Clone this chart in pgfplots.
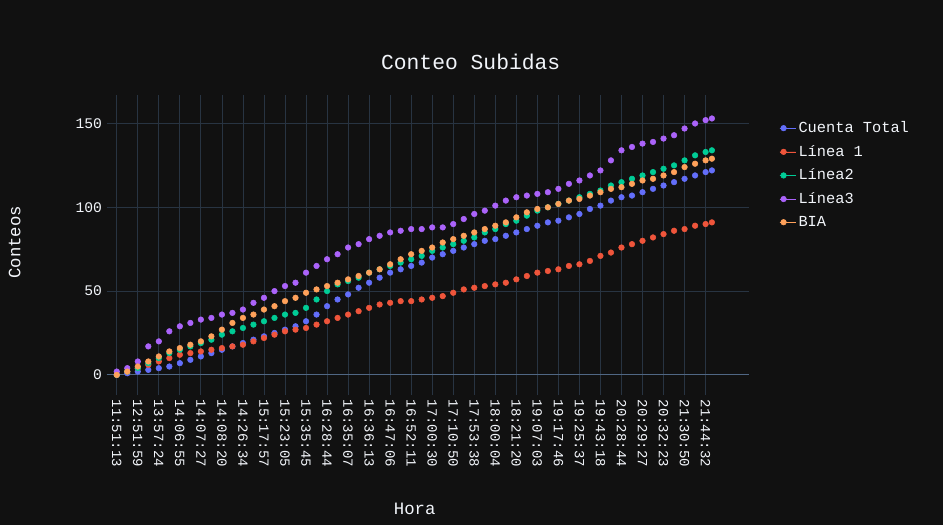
\documentclass[border=0pt]{standalone}
\usepackage{pgfplots}
\pgfplotsset{compat=1.18}
\usepackage{fontspec}
\setmainfont{Liberation Mono}
\definecolor{bg}{HTML}{111111}
\definecolor{fg}{HTML}{F2F5FA}
\definecolor{gridc}{HTML}{283442}
\definecolor{zl}{HTML}{506784}
\definecolor{c1}{HTML}{636EFA}
\definecolor{c2}{HTML}{EF553B}
\definecolor{c3}{HTML}{00CC96}
\definecolor{c4}{HTML}{AB63FA}
\definecolor{c5}{HTML}{FFA15A}
\begin{document}
\begin{tikzpicture}
\fill[bg] (0,0) rectangle (707.25pt,393.75pt);
\node[text=fg,font=\fontsize{16}{19}\selectfont] at (353pt,347pt) {Conteo Subidas};
\node[text=fg,font=\fontsize{13}{15}\selectfont,rotate=90] at (11pt,212pt) {Conteos};
\node[text=fg,font=\fontsize{13}{15}\selectfont] at (311pt,12pt) {Hora};
\begin{axis}[at={(80pt,97.5pt)},anchor=south west,scale only axis,
 width=482pt,height=225pt,
 xmin=-4.8,xmax=300.8,ymin=-12,ymax=167,
 axis line style={draw=none},tick style={draw=none},
 grid=major,grid style={gridc,line width=0.6pt},
 ytick={0,50,100,150},
 xtick={0,10,...,280},
 xticklabels={11:51:13,12:51:59,13:57:24,14:06:55,14:07:27,14:08:20,14:26:34,15:17:57,15:23:05,15:35:45,16:28:44,16:35:07,16:36:13,16:47:06,16:52:11,17:00:30,17:10:50,17:53:38,18:00:04,18:21:20,19:07:03,19:17:46,19:25:37,19:43:18,20:28:44,20:29:27,20:32:23,21:30:50,21:44:32},
 x tick label style={rotate=-90,anchor=west,font=\fontsize{10.5}{12}\selectfont},
 y tick label style={font=\fontsize{11}{12}\selectfont},
 /pgf/number format/assume math mode=true,
 ticklabel style={text=fg},
 legend style={at={(1.04,0.93)},anchor=north west,fill=none,draw=none,text=fg,font=\fontsize{11.5}{13}\selectfont,row sep=4pt},
 legend cell align=left,
 legend image code/.code={\draw[#1] (0.3em,0) circle (2.1pt); \path (0,0) -- (1.2em,0);},
 every axis plot/.append style={only marks,mark=*,mark size=2.1pt},
]
\draw[zl,line width=0.8pt] (axis cs:-4.8,0) -- (axis cs:300.8,0);
\addplot[c1,fill=c1,mark options={fill=c1,draw=none}] coordinates {(0,0)(5,1)(10,2)(15,3)(20,4)(25,5)(30,7)(35,9)(40,11)(45,13)(50,15)(55,17)(60,19)(65,21)(70,23)(75,25)(80,27)(85,29)(90,32)(95,36)(100,41)(105,45)(110,48)(115,52)(120,55)(125,58)(130,61)(135,63)(140,65)(145,67)(150,70)(155,72)(160,74)(165,76)(170,78)(175,80)(180,81)(185,83)(190,85)(195,87)(200,89)(205,91)(210,92)(215,94)(220,96)(225,99)(230,101)(235,104)(240,106)(245,107)(250,109)(255,111)(260,113)(265,115)(270,117)(275,119)(280,121)(283,122)};
\addlegendentry{Cuenta Total}
\addplot[c2,fill=c2,mark options={fill=c2,draw=none}] coordinates {(0,0)(5,2)(10,4)(15,6)(20,8)(25,10)(30,12)(35,13)(40,14)(45,15)(50,16)(55,17)(60,18)(65,20)(70,22)(75,24)(80,26)(85,27)(90,28)(95,30)(100,32)(105,34)(110,36)(115,38)(120,40)(125,42)(130,43)(135,44)(140,44)(145,45)(150,46)(155,47)(160,49)(165,51)(170,52)(175,53)(180,54)(185,55)(190,57)(195,59)(200,61)(205,62)(210,63)(215,65)(220,66)(225,68)(230,71)(235,73)(240,76)(245,78)(250,80)(255,82)(260,84)(265,86)(270,87)(275,89)(280,90)(283,91)};
\addlegendentry{Línea 1}
\addplot[c3,fill=c3,mark options={fill=c3,draw=none}] coordinates {(0,0)(5,2)(10,4)(15,7)(20,10)(25,13)(30,15)(35,17)(40,19)(45,21)(50,24)(55,26)(60,28)(65,30)(70,32)(75,34)(80,36)(85,37)(90,40)(95,45)(100,50)(105,54)(110,56)(115,58)(120,61)(125,63)(130,65)(135,67)(140,69)(145,71)(150,74)(155,76)(160,78)(165,80)(170,82)(175,85)(180,87)(185,90)(190,92)(195,95)(200,98)(205,100)(210,102)(215,104)(220,106)(225,108)(230,110)(235,113)(240,115)(245,117)(250,119)(255,121)(260,123)(265,125)(270,128)(275,131)(280,133)(283,134)};
\addlegendentry{Línea2}
\addplot[c4,fill=c4,mark options={fill=c4,draw=none}] coordinates {(0,2)(5,4)(10,8)(15,17)(20,20)(25,26)(30,29)(35,31)(40,33)(45,34)(50,36)(55,37)(60,39)(65,43)(70,46)(75,50)(80,53)(85,55)(90,61)(95,65)(100,69)(105,72)(110,76)(115,78)(120,81)(125,83)(130,85)(135,86)(140,87)(145,87)(150,88)(155,88)(160,90)(165,93)(170,96)(175,98)(180,101)(185,104)(190,106)(195,107)(200,108)(205,109)(210,111)(215,114)(220,116)(225,119)(230,122)(235,128)(240,134)(245,136)(250,138)(255,139)(260,141)(265,143)(270,147)(275,150)(280,152)(283,153)};
\addlegendentry{Línea3}
\addplot[c5,fill=c5,mark options={fill=c5,draw=none}] coordinates {(0,0)(5,2)(10,5)(15,8)(20,11)(25,14)(30,16)(35,18)(40,20)(45,23)(50,27)(55,31)(60,34)(65,36)(70,39)(75,41)(80,44)(85,46)(90,49)(95,51)(100,53)(105,55)(110,57)(115,59)(120,61)(125,63)(130,66)(135,69)(140,72)(145,74)(150,76)(155,79)(160,81)(165,83)(170,85)(175,87)(180,89)(185,91)(190,94)(195,97)(200,99)(205,100)(210,102)(215,104)(220,105)(225,107)(230,109)(235,111)(240,112)(245,114)(250,116)(255,117)(260,119)(265,121)(270,124)(275,126)(280,128)(283,129)};
\addlegendentry{BIA}
\end{axis}
\end{tikzpicture}
\end{document}
